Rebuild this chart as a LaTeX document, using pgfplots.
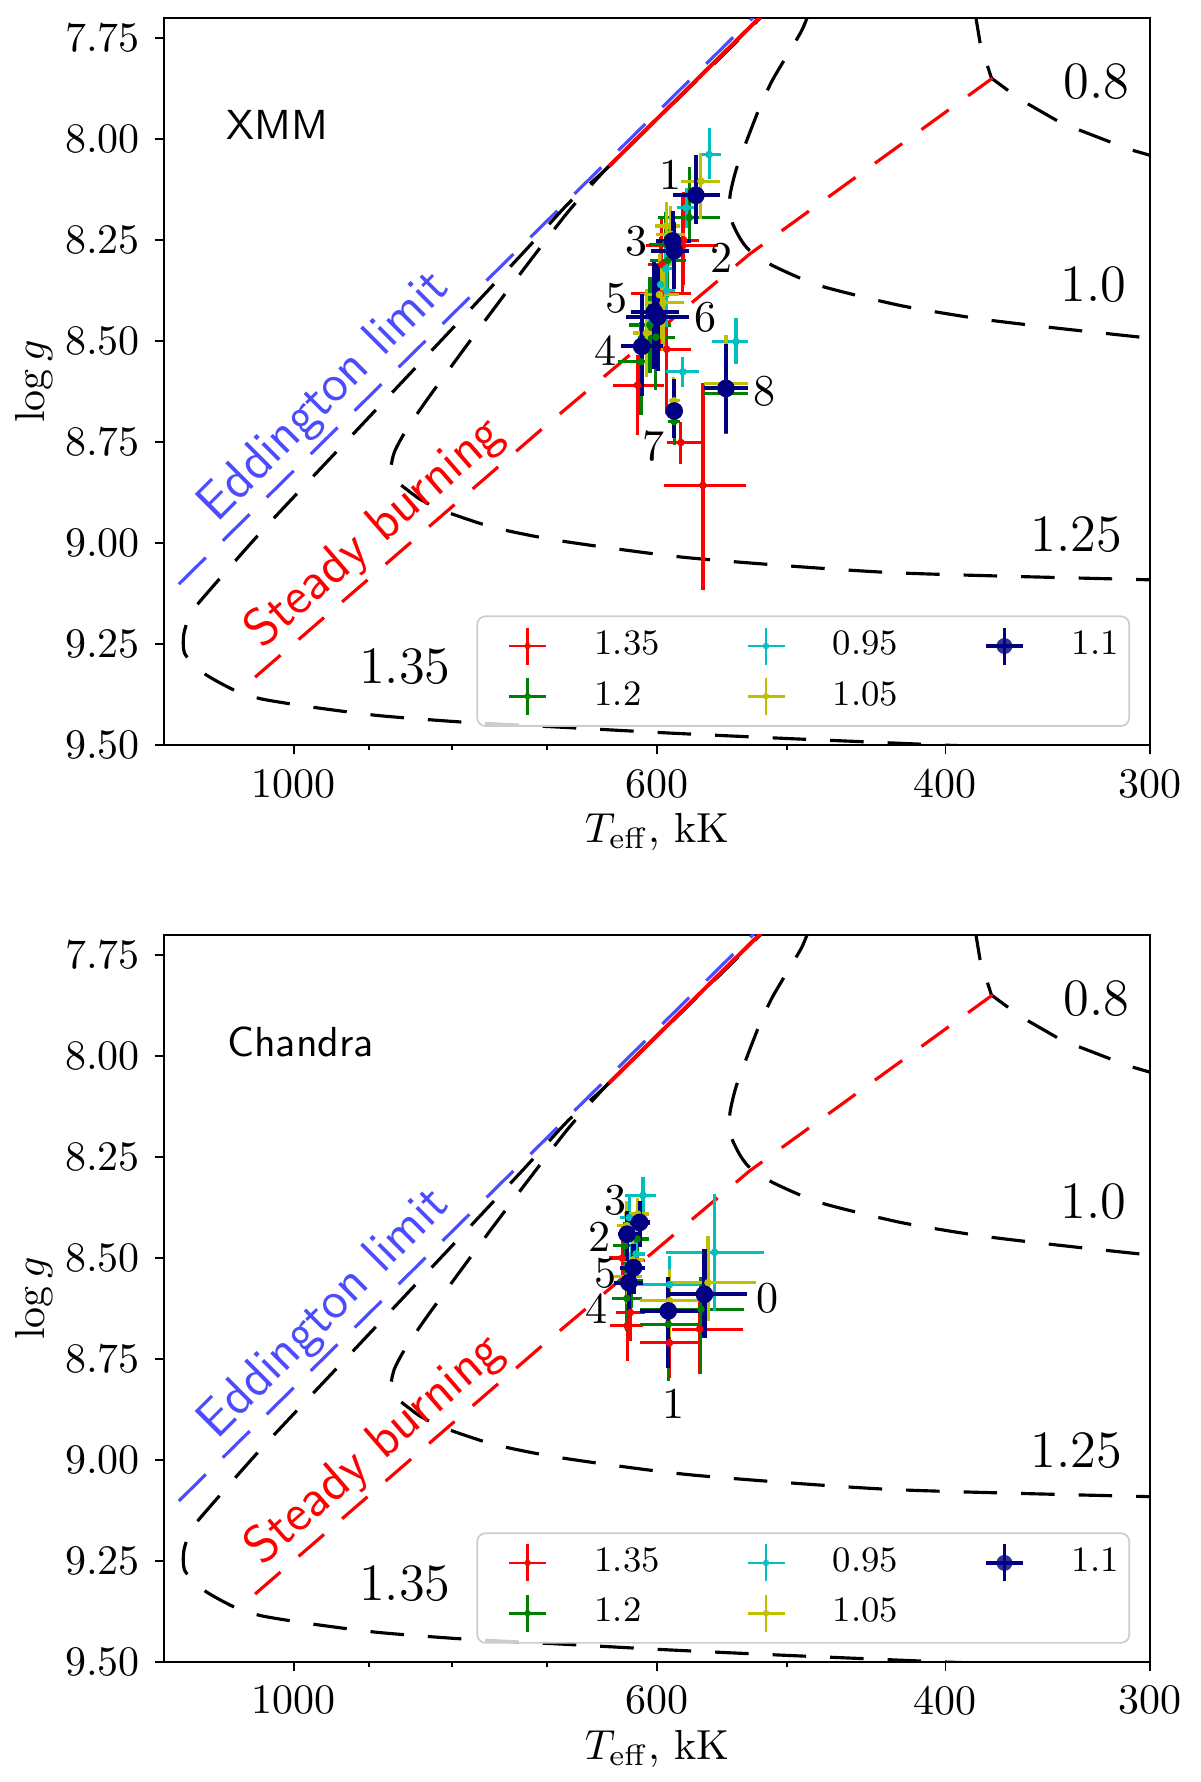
\documentclass[border=0pt]{standalone}
\usepackage{pgfplots}
\pgfplotsset{compat=1.18}
\usepackage{pgfplotstable}

\definecolor{mred}{rgb}{1,0,0}
\definecolor{mgreen}{rgb}{0,0.5,0}
\definecolor{mcyan}{rgb}{0,0.75,0.75}
\definecolor{myellow}{rgb}{0.75,0.75,0}
\definecolor{mnavy}{rgb}{0,0,0.5}
\definecolor{edd}{rgb}{0.3,0.3,1}

% ---- model curves (T in kK, log g) ----
\pgfplotstableread{
T g
1250 9.209
480 7.546
}\eddtab

\pgfplotstableread{
T g
642 8.067
480 7.562
}\redsolid

\pgfplotstableread{
T g
1055.7 9.332
702.8 8.712
527 8.285
374.5 7.849
}\steady

% M = 1.35
\pgfplotstableread{
T g
480 7.545
519 7.70
600 7.95
645 8.075
680 8.16
720 8.27
790 8.445
909 8.708
1046 8.971
1140 9.143
1157 9.178
1167 9.226
1165 9.275
1133 9.324
1086 9.365
1046 9.386
975 9.406
888 9.427
790 9.443
686 9.456
592 9.470
499 9.484
402 9.500
380 9.503
}\mA

% M = 1.25
\pgfplotstableread{
T g
480 7.545
519 7.70
600 7.95
645 8.075
680 8.18
720 8.31
768 8.461
828 8.642
855 8.725
868 8.775
872 8.815
866 8.845
850 8.872
836 8.893
809 8.921
754 8.962
686 8.995
572 9.037
432 9.073
300 9.091
290 9.093
}\mB

% M = 1.0
\pgfplotstableread{
T g
484 7.68
490 7.734
510 7.853
521 7.935
536 8.067
541 8.13
542 8.165
540 8.205
534 8.245
527 8.275
510 8.313
477 8.363
426 8.412
381 8.445
340 8.469
298 8.494
290 8.499
}\mC

% M = 0.8
\pgfplotstableread{
T g
384 7.68
381 7.762
375 7.849
360 7.902
340 7.960
322 7.997
309 8.025
300 8.040
290 8.055
}\mD

% ---- XMM fits: T, log g, errors ----
\pgfplotstableread{
T g Tm Tp gm gp
578 8.250 12 14 0.12 0.11
578.8 8.264 27.7 30.6 0.13 0.12
596 8.310 12 12 0.12 0.12
597 8.383 25 25 0.14 0.14
592 8.520 20 22 0.15 0.16
616.8 8.609 23 21.9 0.074 0.123
580.2 8.751 16 11.2 0.051 0.052
562.5 8.857 33.2 31.4 0.253 0.258
}\xred

\pgfplotstableread{
T g Tm Tp gm gp
573.4 8.194 24.4 26 0.124 0.053
591 8.300 15 15 0.09 0.09
593 8.260 12 14 0.08 0.08
606 8.460 18 18 0.12 0.12
601 8.490 16 15 0.12 0.13
613.7 8.551 14.2 20.4 0.098 0.132
585.7 8.699 5 5 0.016 0.058
544.6 8.630 16.3 16.9 0.10 0.10
}\xgreen

\pgfplotstableread{
T g Tm Tp gm gp
557.6 8.038 9 8 0.065 0.06
592.6 8.321 8 8 0.06 0.06
576 8.170 7 7 0.05 0.05
597 8.360 6 6 0.08 0.08
592 8.375 7 7 0.09 0.09
603 8.450 7 7 0.09 0.09
578.7 8.576 13.2 13.9 0.037 0.037
537 8.501 8.7 18.6 0.058 0.055
}\xcyan

\pgfplotstableread{
T g Tm Tp gm gp
564.1 8.104 14.9 16.1 0.071 0.094
589 8.235 12 12 0.07 0.08
592 8.215 11 10 0.06 0.07
598 8.385 16 17 0.10 0.11
595 8.405 17 15 0.10 0.12
609 8.480 14 12 0.11 0.11
586 8.648 5 4 0.06 0.06
544.6 8.605 16.3 16.9 0.12 0.11
}\xyellow

\pgfplotstableread{
T g Tm Tp gm gp
568.1 8.139 19 19 0.10 0.07
585.7 8.276 12.3 19.4 0.07 0.095
587 8.252 14.9 13.9 0.074 0.05
602.3 8.428 20.7 20 0.123 0.14
599.4 8.440 26 27.7 0.13 0.135
613.1 8.513 17.8 18.1 0.13 0.124
585.7 8.673 5.6 4.2 0.08 0.068
544.6 8.617 16.3 16.9 0.111 0.111
}\xnavy

% ---- Chandra fits ----
\pgfplotstableread{
T g Tm Tp gm gp
565.2 8.676 33.7 22.3 0.070 0.112
589.6 8.710 25.5 25.3 0.079 0.086
630 8.500 12 12 0.07 0.07
620 8.507 10 10 0.05 0.05
625.8 8.668 13.8 14.9 0.037 0.087
623 8.635 13 13 0.05 0.07
}\cred

\pgfplotstableread{
T g Tm Tp gm gp
564.1 8.627 33.5 50.8 0.079 0.161
590.6 8.664 25.4 24.3 0.08 0.14
628 8.470 10 10 0.06 0.07
617 8.453 10 12 0.04 0.05
626 8.600 13 13 0.06 0.08
622 8.555 10 12 0.06 0.07
}\cgreen

\pgfplotstableread{
T g Tm Tp gm gp
553.4 8.486 37.5 38.8 0.145 0.145
589.6 8.566 25 30 0.07 0.07
624 8.400 8 8 0.05 0.05
612 8.345 11 16 0.045 0.054
622 8.520 9 9 0.05 0.05
618 8.490 8 8 0.05 0.05
}\ccyan

\pgfplotstableread{
T g Tm Tp gm gp
558.5 8.561 36.5 31 0.116 0.095
589.6 8.606 25 25 0.08 0.09
626 8.420 10 9 0.06 0.06
616.7 8.391 10 12 0.04 0.05
625 8.545 12 12 0.06 0.07
621 8.505 10 11 0.06 0.06
}\cyellow

\pgfplotstableread{
T g Tm Tp gm gp
561.3 8.590 32.4 29.3 0.112 0.107
590.6 8.631 25.4 24.3 0.083 0.141
625.8 8.441 10.9 8.1 0.058 0.066
614.9 8.412 8.5 10.9 0.054 0.062
624.3 8.561 12.3 12.7 0.054 0.078
620.2 8.524 9.7 12.2 0.058 0.066
}\cnavy

\pgfplotsset{
  mcurve/.style={black, line width=0.75pt, dash pattern=on 8pt off 5.7pt},
  mser/.style n args={3}{only marks, mark=*, mark size=#2, color=#1,
    mark options={solid, fill=#1, draw=#1},
    error bars/x dir=both, error bars/x explicit,
    error bars/y dir=both, error bars/y explicit,
    error bars/error mark=none,
    error bars/error bar style={line width=#3, solid, color=#1}},
  errleg/.style n args={3}{legend image code/.code={
    \path[draw=none, fill=none] (-7pt,-4.4pt) rectangle (9pt,4.4pt);
    \draw[#1, line width=#3, fill=none, sharp corners] (0.1pt,0pt) -- (8.9pt,0pt) (4.5pt,-4.4pt) -- (4.5pt,4.4pt);
    \fill[#1, draw=none] (4.5pt,0pt) circle[radius=#2];}},
}

\newcommand{\drawcurves}{%
  \addplot[forget plot, edd, line width=0.75pt, dash pattern=on 9pt off 5.7pt] table {\eddtab};
  \addplot[forget plot, mcurve, smooth, tension=0.4] table {\mA};
  \addplot[forget plot, mcurve, smooth, tension=0.4] table {\mB};
  \addplot[forget plot, mcurve, smooth, tension=0.4] table {\mC};
  \addplot[forget plot, mcurve] table {\mD};
  \addplot[forget plot, mred, line width=0.75pt, dash pattern=on 8pt off 5.7pt] table {\steady};
  \addplot[forget plot, mred, line width=0.95pt] table {\redsolid};
  \node[font=\fontsize{12.5}{15}\selectfont, inner sep=0pt] at (axis cs:323.6,7.857) {0.8};
  \node[font=\fontsize{12.5}{15}\selectfont, inner sep=0pt] at (axis cs:324.8,8.361) {1.0};
  \node[font=\fontsize{12.5}{15}\selectfont, inner sep=0pt] at (axis cs:332.9,8.978) {1.25};
  \node[font=\fontsize{12.5}{15}\selectfont, inner sep=0pt] at (axis cs:855.4,9.306) {1.35};
  \node[font=\fontsize{12.5}{15}\selectfont\sffamily, text=edd, rotate=45, inner sep=0pt]
    at (axis cs:957,8.640) {Eddington limit};
  \node[font=\fontsize{12.5}{15}\selectfont\sffamily, text=mred, rotate=41, inner sep=0pt]
    at (axis cs:892,8.976) {Steady burning};
}

\newcommand{\legendset}{%
  \addlegendimage{errleg={mred}{0.8pt}{0.65pt}}\addlegendentry{1.35}
  \addlegendimage{errleg={mcyan}{0.8pt}{0.65pt}}\addlegendentry{0.95}
  \addlegendimage{errleg={mnavy}{1.9pt}{0.9pt}}\addlegendentry{1.1}
  \addlegendimage{errleg={mgreen}{0.8pt}{0.65pt}}\addlegendentry{1.2}
  \addlegendimage{errleg={myellow}{0.8pt}{0.65pt}}\addlegendentry{1.05}
}

\pgfplotsset{every axis/.append style={
    scale only axis, width=234.8pt, height=173.1pt,
    xmode=log, x dir=reverse, y dir=reverse,
    xmin=300, xmax=1200, ymin=7.70, ymax=9.50,
    xtick={300,400,600,1000}, xticklabels={300,400,600,1000},
    minor xtick={500,700,800,900},
    ytick={7.75,8,8.25,8.5,8.75,9,9.25,9.5},
    yticklabels={7.75,8.00,8.25,8.50,8.75,9.00,9.25,9.50},
    tick align=outside, major tick length=2.2pt, minor tick length=1.3pt,
    xtick pos=left, ytick pos=left,
    tick style={black, line width=0.45pt},
    axis line style={line width=0.45pt},
    xlabel={$T_{\rm eff}$, kK}, ylabel={$\log g$},
    xlabel shift=-3.3pt, ylabel shift=-3.8pt,
    legend columns=3, legend cell align=left,
    legend style={at={(0.9797,0.025)}, anchor=south east,
      draw=black!20, rounded corners=2pt, fill=white, fill opacity=0.8,
      text opacity=1, font=\fontsize{8.5}{10}\selectfont,
      inner xsep=0.5pt, inner ysep=1.5pt, row sep=0.8pt,
      /tikz/every odd column/.append style={column sep=9.2pt},
      /tikz/every even column/.append style={column sep=11.8pt}},
}}

\begin{document}
\begin{tikzpicture}
\useasboundingbox (-39.05pt,4.29pt) rectangle (246.67pt,-420.0pt);

% ---------------- XMM ----------------
\begin{axis}[at={(0pt,0pt)}, anchor=north west]
  \drawcurves
  \addplot[forget plot, mser={mred}{0.7pt}{0.75pt}]
    table[x=T,y=g,x error minus=Tm,x error plus=Tp,y error minus=gm,y error plus=gp] {\xred};
  \addplot[forget plot, mser={mgreen}{0.7pt}{0.75pt}]
    table[x=T,y=g,x error minus=Tm,x error plus=Tp,y error minus=gm,y error plus=gp] {\xgreen};
  \addplot[forget plot, mser={mcyan}{0.7pt}{0.75pt}]
    table[x=T,y=g,x error minus=Tm,x error plus=Tp,y error minus=gm,y error plus=gp] {\xcyan};
  \addplot[forget plot, mser={myellow}{0.7pt}{0.75pt}]
    table[x=T,y=g,x error minus=Tm,x error plus=Tp,y error minus=gm,y error plus=gp] {\xyellow};
  \addplot[forget plot, mser={mnavy}{1.9pt}{1.0pt}]
    table[x=T,y=g,x error minus=Tm,x error plus=Tp,y error minus=gm,y error plus=gp] {\xnavy};
  \legendset
  \node[font=\sffamily, inner sep=0pt] at (axis cs:1023,7.965) {XMM};
  \begin{scope}[every node/.style={font=\fontsize{10.5}{12}\selectfont, inner sep=0pt}]
  \node at (axis cs:588.4,8.087) {1};
  \node at (axis cs:548.4,8.293) {2};
  \node at (axis cs:618,8.252) {3};
  \node at (axis cs:644.6,8.523) {4};
  \node at (axis cs:635.6,8.395) {5};
  \node at (axis cs:560.3,8.441) {6};
  \node at (axis cs:603.2,8.761) {7};
  \node at (axis cs:516.1,8.625) {8};
  \end{scope}
\end{axis}

% ---------------- Chandra ----------------
\begin{axis}[at={(0pt,-218.3pt)}, anchor=north west]
  \drawcurves
  \addplot[forget plot, mser={mred}{0.7pt}{0.75pt}]
    table[x=T,y=g,x error minus=Tm,x error plus=Tp,y error minus=gm,y error plus=gp] {\cred};
  \addplot[forget plot, mser={mgreen}{0.7pt}{0.75pt}]
    table[x=T,y=g,x error minus=Tm,x error plus=Tp,y error minus=gm,y error plus=gp] {\cgreen};
  \addplot[forget plot, mser={mcyan}{0.7pt}{0.75pt}]
    table[x=T,y=g,x error minus=Tm,x error plus=Tp,y error minus=gm,y error plus=gp] {\ccyan};
  \addplot[forget plot, mser={myellow}{0.7pt}{0.75pt}]
    table[x=T,y=g,x error minus=Tm,x error plus=Tp,y error minus=gm,y error plus=gp] {\cyellow};
  \addplot[forget plot, mser={mnavy}{1.9pt}{1.0pt}]
    table[x=T,y=g,x error minus=Tm,x error plus=Tp,y error minus=gm,y error plus=gp] {\cnavy};
  \legendset
  \node[font=\sffamily, inner sep=0pt] at (axis cs:990,7.965) {Chandra};
  \begin{scope}[every node/.style={font=\fontsize{10.5}{12}\selectfont, inner sep=0pt}]
  \node at (axis cs:513.7,8.601) {0};
  \node at (axis cs:586.3,8.862) {1};
  \node at (axis cs:650.6,8.447) {2};
  \node at (axis cs:636,8.358) {3};
  \node at (axis cs:653.3,8.624) {4};
  \node at (axis cs:645.1,8.539) {5};
  \end{scope}
\end{axis}
\end{tikzpicture}
\end{document}
